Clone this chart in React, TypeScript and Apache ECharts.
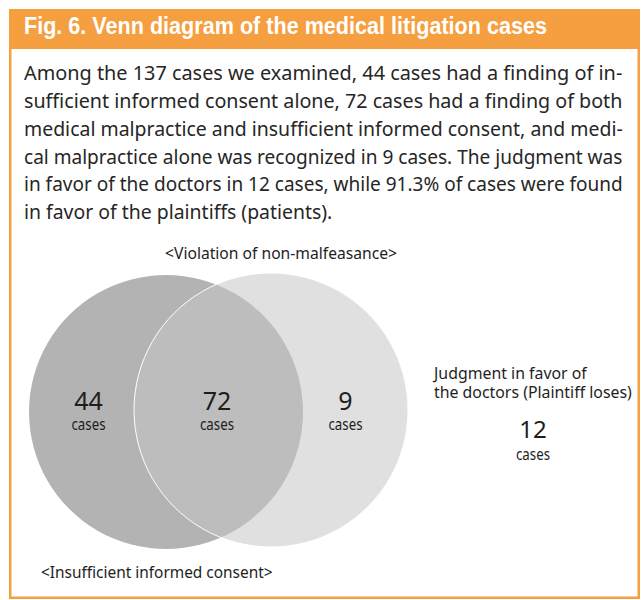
import React, { useEffect, useRef } from 'react';
import * as echarts from 'echarts';

// ---------- data ----------
const titleText = 'Fig. 6. Venn diagram of the medical litigation cases';
const paragraphLines = [
  'Among the 137 cases we examined, 44 cases had a finding of in-',
  'sufficient informed consent alone, 72 cases had a finding of both',
  'medical malpractice and insufficient informed consent, and medi-',
  'cal malpractice alone was recognized in 9 cases. The judgment was',
  'in favor of the doctors in 12 cases, while 91.3% of cases were found',
  'in favor of the plaintiffs (patients).',
];
const setNames = ['<Insufficient informed consent>', '<Violation of non-malfeasance>'];
const regionNames = ['Insufficient informed consent only', 'Both', 'Violation of non-malfeasance only'];
const regionCounts = [44, 72, 9];
const unitLabel = 'cases';
const outsideLabelLines = ['Judgment in favor of', 'the doctors (Plaintiff loses)'];
const outsideCount = 12;

// ---------- helpers ----------
const ORANGE = '#F69F40';
const CENTRAL: Record<string, number> = { 'Noto Sans': 0.388, 'Liberation Sans': 0.3465 };
let ctx: CanvasRenderingContext2D | null = null;
function measure(text: string, size: number, family: string, weight: string) {
  if (!ctx) ctx = document.createElement('canvas').getContext('2d');
  ctx!.font = `${weight} ${size}px "${family}"`;
  return ctx!.measureText(text).width;
}
type TOpt = {
  x: number; baseline: number; size: number; family?: string; weight?: string;
  color?: string; width?: number; sx?: number; align?: string;
};
function scaleFor(text: string, o: TOpt) {
  const family = o.family ?? 'Noto Sans';
  const weight = o.weight ?? 'normal';
  return (o.width ?? 0) / measure(text, o.size, family, weight);
}
function textEl(text: string, o: TOpt) {
  const family = o.family ?? 'Noto Sans';
  const weight = o.weight ?? 'normal';
  const sx = o.width ? scaleFor(text, o) : o.sx ?? 1;
  const align = o.align ?? 'left';
  return {
    type: 'text',
    x: o.x,
    y: o.baseline - CENTRAL[family] * o.size,
    scaleX: sx,
    silent: true,
    z: 10,
    style: {
      text,
      fill: o.color ?? '#1e1e1e',
      fontSize: o.size,
      fontFamily: family,
      fontWeight: weight,
      align,
      textAlign: align,
      verticalAlign: 'middle',
      textVerticalAlign: 'middle',
    },
  };
}

export default function App() {
  const ref = useRef<HTMLDivElement>(null);
  useEffect(() => {
    if (!ref.current) return;
    const chart = echarts.init(ref.current, undefined, { renderer: 'svg' });

    const els: any[] = [];
    // frame
    els.push({ type: 'rect', shape: { x: 10.25, y: 10.25, width: 628.5, height: 587.5 }, style: { fill: '#fff', stroke: ORANGE, lineWidth: 2.5 }, z: 0 });
    els.push({ type: 'rect', shape: { x: 9, y: 9, width: 631, height: 40 }, style: { fill: ORANGE }, z: 1 });
    // title
    els.push(textEl(titleText, { x: 24, baseline: 34.5, size: 23, family: 'Liberation Sans', weight: 'bold', color: '#fff', width: 523 }));
    // paragraph
    const pSize = 19.5;
    const pScales = paragraphLines.slice(0, -1).map((l) => scaleFor(l, { x: 0, baseline: 0, size: pSize, width: 599 }));
    const avgScale = pScales.reduce((a, b) => a + b, 0) / pScales.length;
    paragraphLines.forEach((l, i) => {
      els.push(textEl(l, { x: 24, baseline: 80.5 + i * 27.7, size: pSize, color: '#262626', sx: i < pScales.length ? pScales[i] : avgScale }));
    });

    // circles
    els.push({ type: 'circle', shape: { cx: 166, cy: 412, r: 137 }, style: { fill: '#b3b3b3' }, z: 2, name: setNames[0] });
    els.push({ type: 'circle', shape: { cx: 271, cy: 410, r: 137 }, style: { fill: 'rgba(198,198,198,0.54)', stroke: '#ffffff', lineWidth: 1 }, z: 3, name: setNames[1] });

    // set names
    els.push(textEl(setNames[1], { x: 281, baseline: 259, size: 17, width: 232, align: 'center' }));
    els.push(textEl(setNames[0], { x: 41, baseline: 578.5, size: 17, width: 232 }));

    // region counts
    const regionX = [88.5, 217, 345.5];
    regionCounts.forEach((c, i) => {
      els.push(textEl(String(c), { x: regionX[i], baseline: 409.5, size: 25, align: 'center' }));
      els.push(textEl(unitLabel, { x: regionX[i], baseline: 430, size: 15.5, width: 34, align: 'center' }));
    });
    void regionNames;

    // outside
    const oSize = 16;
    const oScale = scaleFor(outsideLabelLines[1], { x: 0, baseline: 0, size: oSize, width: 198 });
    outsideLabelLines.forEach((l, i) => {
      els.push(textEl(l, { x: 434, baseline: 379 + i * 19, size: oSize, sx: oScale }));
    });
    els.push(textEl(String(outsideCount), { x: 533, baseline: 438, size: 24, align: 'center' }));
    els.push(textEl(unitLabel, { x: 533, baseline: 460, size: 15.5, width: 34, align: 'center' }));

    chart.setOption({
      animation: false,
      backgroundColor: '#fff',
      graphic: { elements: els },
    });
    return () => chart.dispose();
  }, []);
  return <div ref={ref} style={{ position: 'absolute', left: 0, top: 0, width: 643, height: 600 }} />;
}
